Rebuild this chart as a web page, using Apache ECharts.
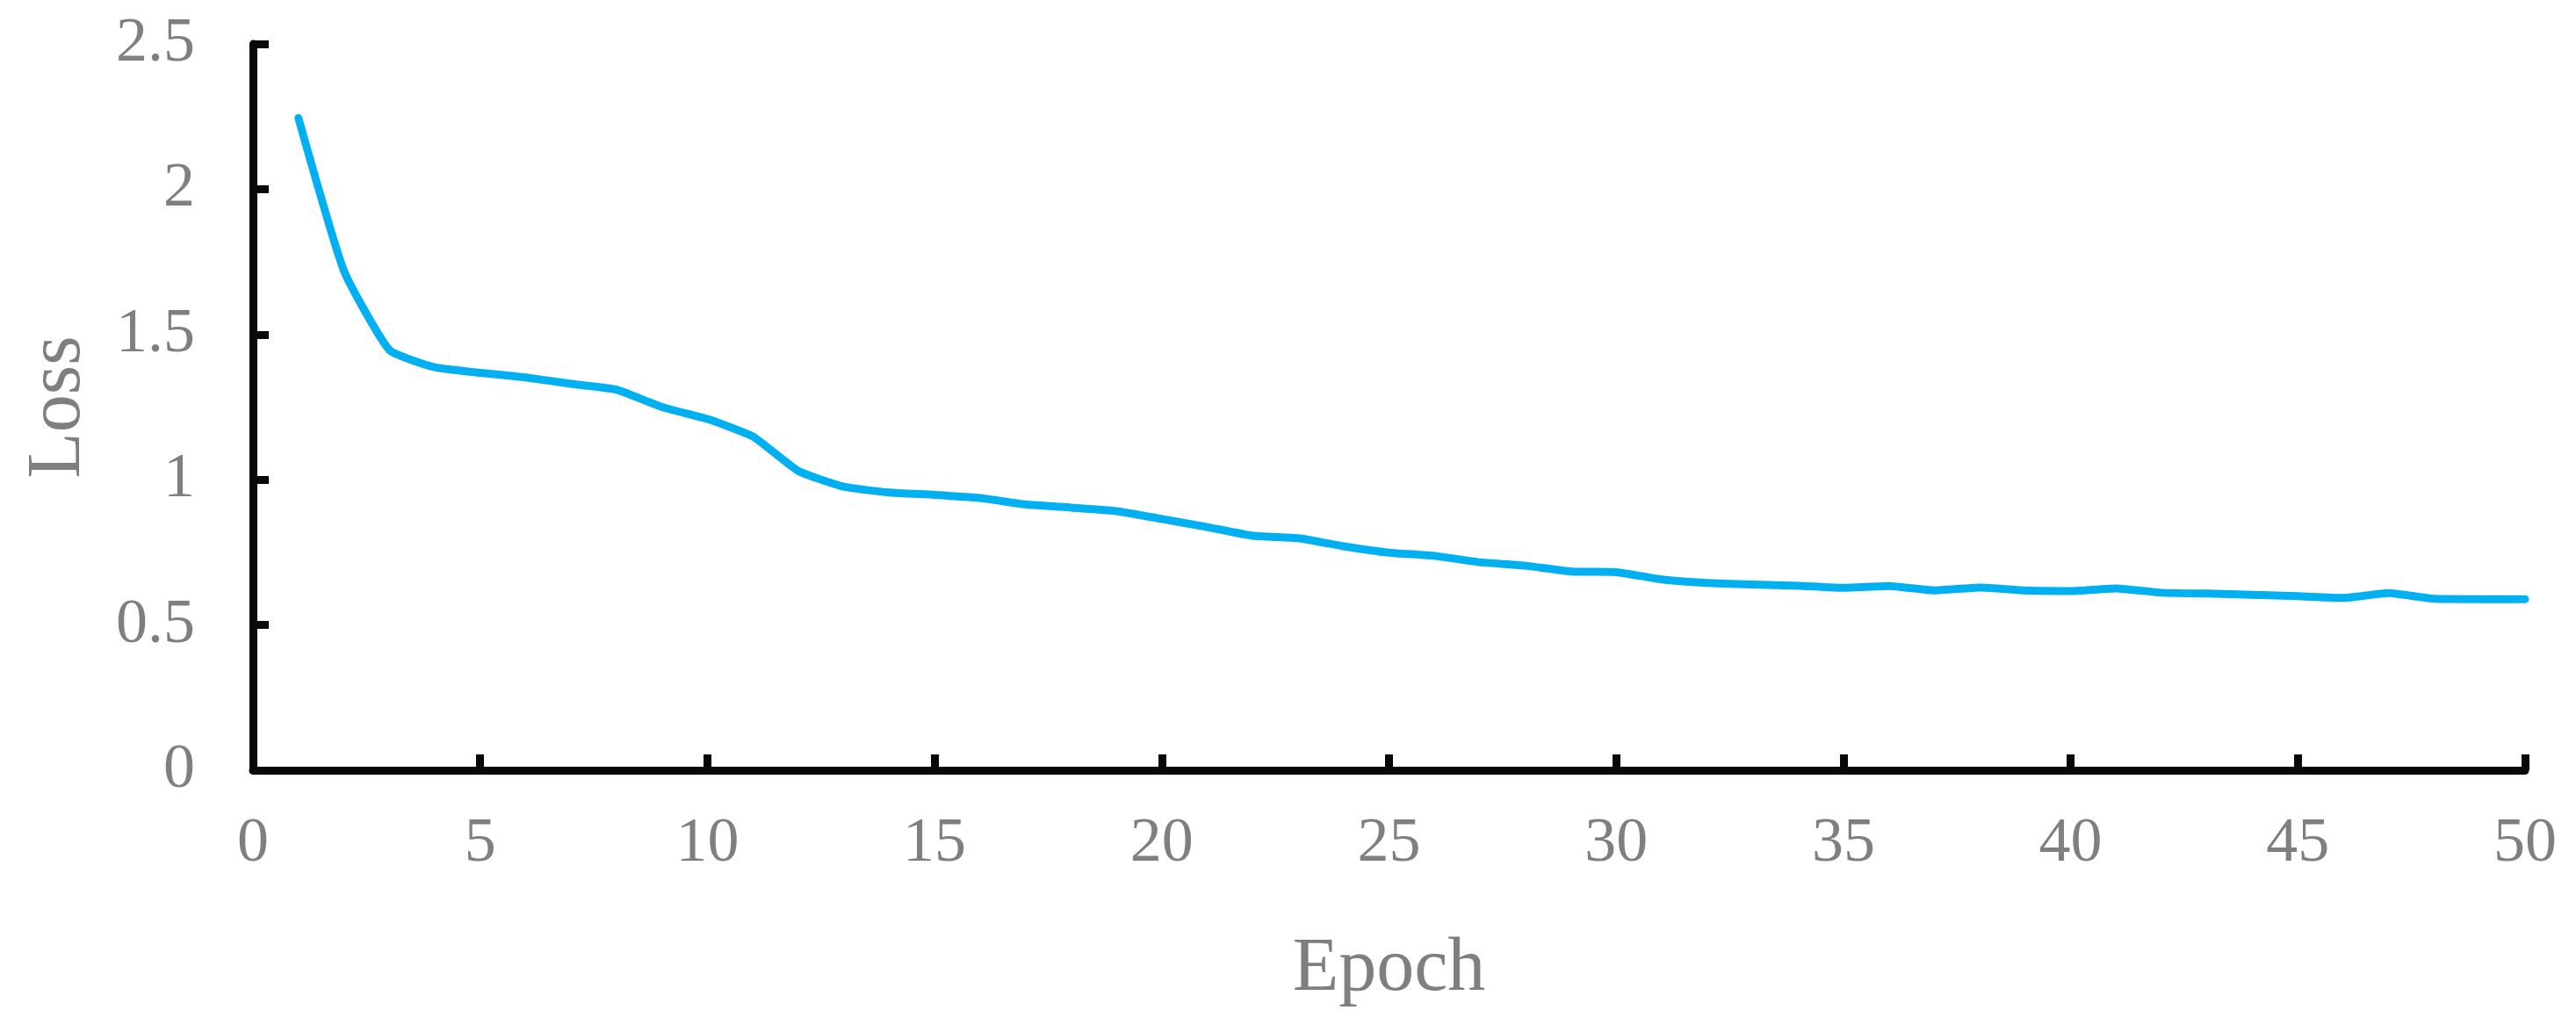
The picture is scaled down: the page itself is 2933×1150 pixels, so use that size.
<!DOCTYPE html>
<html>
<head>
<meta charset="utf-8">
<title>Loss</title>
<script src="https://cdn.jsdelivr.net/npm/echarts@6/dist/echarts.min.js"></script>
<style>
    html, body { margin: 0; padding: 0; background: #fff; }
    #main { width: 2933px; height: 1150px; }
</style>
</head>
<body>
<div id="main"></div>
<script>
// epoch numbers
var epochs = [1, 2, 3, 4, 5, 6, 7, 8, 9, 10,
    11, 12, 13, 14, 15, 16, 17, 18, 19, 20,
    21, 22, 23, 24, 25, 26, 27, 28, 29, 30,
    31, 32, 33, 34, 35, 36, 37, 38, 39, 40,
    41, 42, 43, 44, 45, 46, 47, 48, 49, 50];
// loss per epoch
var loss = [2.245, 1.72, 1.447, 1.387, 1.368, 1.352, 1.330, 1.310, 1.250, 1.209,
    1.149, 1.030, 0.976, 0.956, 0.948, 0.937, 0.915, 0.904, 0.892, 0.865,
    0.837, 0.807, 0.799, 0.771, 0.749, 0.738, 0.716, 0.704, 0.684, 0.682,
    0.657, 0.645, 0.639, 0.635, 0.628, 0.634, 0.619, 0.629, 0.619, 0.617,
    0.626, 0.611, 0.608, 0.604, 0.599, 0.593, 0.610, 0.590, 0.589, 0.589];
var xTicks = { min: 0, max: 50, step: 5 };
var yTicks = { min: 0, max: 2.5, step: 0.5 };

var Chart = function () {
    var font = '"Liberation Serif", "DejaVu Serif", serif';
    var grey = '#7f7f7f';
    var axisBlack = '#080808';

    var draw = function () {
        var myChart = echarts.init(document.getElementById('main'));
        var points = [];
        for (var i = 0; i < epochs.length; i++) {
            points.push([epochs[i], loss[i]]);
        }
        var option = {
            animation: false,
            backgroundColor: '#ffffff',
            grid: {
                left: 288,
                right: 58,
                top: 50,
                bottom: 273,
                outerBoundsMode: 'none'
            },
            xAxis: {
                type: 'value',
                min: xTicks.min,
                max: xTicks.max,
                interval: xTicks.step,
                name: 'Epoch',
                nameLocation: 'middle',
                nameGap: 184,
                nameTextStyle: { color: grey, fontFamily: font, fontSize: 86 },
                axisLine: { show: true, lineStyle: { color: axisBlack, width: 9 } },
                axisTick: { show: true, inside: true, length: 18, lineStyle: { color: axisBlack, width: 9 } },
                axisLabel: { color: grey, fontFamily: font, fontSize: 72, margin: 48 },
                splitLine: { show: false }
            },
            yAxis: {
                type: 'value',
                min: yTicks.min,
                max: yTicks.max,
                interval: yTicks.step,
                name: 'Loss',
                nameLocation: 'middle',
                nameGap: 178,
                nameTextStyle: { color: grey, fontFamily: font, fontSize: 86 },
                axisLine: { show: true, lineStyle: { color: axisBlack, width: 9 } },
                axisTick: { show: true, inside: true, length: 18, lineStyle: { color: axisBlack, width: 9 } },
                axisLabel: { color: grey, fontFamily: font, fontSize: 72, margin: 66 },
                splitLine: { show: false }
            },
            series: [
                {
                    name: 'Loss',
                    type: 'line',
                    data: points,
                    smooth: 0.15,
                    showSymbol: false,
                    lineStyle: { color: '#00b0f0', width: 9, cap: 'round', join: 'round' }
                }
            ]
        };
        myChart.setOption(option);
    };

    return {
        init: function () {
            draw();
        }
    };
}();

Chart.init();
</script>
</body>
</html>
